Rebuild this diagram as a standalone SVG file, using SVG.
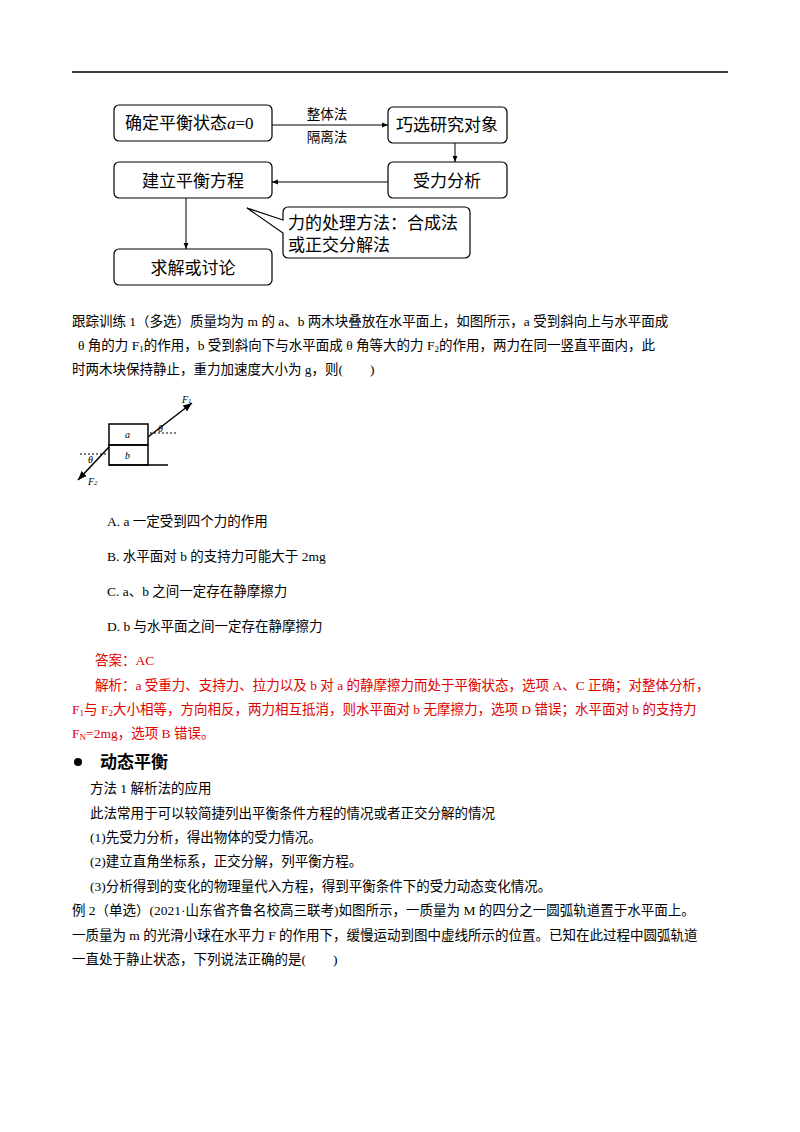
<svg xmlns="http://www.w3.org/2000/svg" width="800" height="1132" viewBox="0 0 800 1132">
<defs>
<marker id="ah" viewBox="0 0 10 10" refX="10" refY="5" markerWidth="6" markerHeight="6" orient="auto"><path d="M0,1 L10,5 L0,9 z" fill="#000"/></marker>
<style>
.box{fill:#fff;stroke:#000;stroke-width:1.2}
.fc{font-family:"Liberation Serif","Noto Sans CJK SC",serif;font-size:17px}
.t{font-family:"Liberation Serif","Noto Sans CJK SC",serif;font-size:13.5px}
.r{fill:#e00000}
.ln{stroke:#000;stroke-width:1;fill:none}
</style>
</defs>
<rect width="800" height="1132" fill="#fff"/>
<line x1="72" y1="72" x2="728" y2="72" stroke="#000" stroke-width="1.5"/>
<g id="n1"><rect class="box" x="114" y="105" width="158" height="36" rx="5"/><text class="fc" x="125" y="129">确定平衡状态<tspan font-style="italic">a</tspan>=0</text></g>
<g id="n2"><rect class="box" x="388" y="107" width="119" height="36" rx="5"/><text class="fc" x="447" y="131" text-anchor="middle">巧选研究对象</text></g>
<g id="n3"><rect class="box" x="388" y="162" width="119" height="36" rx="5"/><text class="fc" x="447" y="187" text-anchor="middle">受力分析</text></g>
<g id="n4"><rect class="box" x="114" y="162" width="158" height="36" rx="5"/><text class="fc" x="193" y="187" text-anchor="middle">建立平衡方程</text></g>
<g id="n5"><rect class="box" x="114" y="249" width="158" height="36" rx="5"/><text class="fc" x="193" y="274" text-anchor="middle">求解或讨论</text></g>
<g id="n6"><path class="box" d="M288,207 H465 a5,5 0 0 1 5,5 V253 a5,5 0 0 1 -5,5 H288 a5,5 0 0 1 -5,-5 V233 L247,208 L283,220 V212 a5,5 0 0 1 5,-5 z"/><text class="fc" x="288" y="229">力的处理方法：合成法</text><text class="fc" x="288" y="251">或正交分解法</text></g>
<g id="edges">
<line class="ln" x1="272" y1="125" x2="388" y2="125" marker-end="url(#ah)"/>
<text class="t" x="327" y="119" text-anchor="middle" font-size="14">整体法</text>
<text class="t" x="327" y="142" text-anchor="middle" font-size="14">隔离法</text>
<line class="ln" x1="455" y1="143" x2="455" y2="162" marker-end="url(#ah)"/>
<line class="ln" x1="388" y1="182" x2="272" y2="182" marker-end="url(#ah)"/>
<line class="ln" x1="186" y1="198" x2="186" y2="249" marker-end="url(#ah)"/>
</g>
<g class="t">
<text x="72" y="326">跟踪训练 1（多选）质量均为 m 的 a、b 两木块叠放在水平面上，如图所示，a 受到斜向上与水平面成</text>
<text x="78" y="350">θ 角的力 F<tspan font-size="9" dy="2">1</tspan><tspan dy="-2">的作用，b 受到斜向下与水平面成 θ 角等大的力 F</tspan><tspan font-size="9" dy="2">2</tspan><tspan dy="-2">的作用，两力在同一竖直平面内，此</tspan></text>
<text x="72" y="374">时两木块保持静止，重力加速度大小为 g，则(　　)</text>
</g>
<g id="fig" stroke="#000" fill="none">
<rect x="109" y="424" width="39" height="21" stroke-width="1.5"/>
<rect x="109" y="445" width="39" height="20" stroke-width="1.5"/>
<line x1="109" y1="465" x2="168" y2="465" stroke-width="1.5"/>
<line x1="148" y1="437" x2="192" y2="403" stroke-width="1.5" marker-end="url(#ah)"/>
<line x1="109" y1="447" x2="78" y2="480" stroke-width="1.5" marker-end="url(#ah)"/>
<line x1="150" y1="433" x2="177" y2="433" stroke-dasharray="2,2"/>
<line x1="80" y1="454" x2="108" y2="454" stroke-dasharray="2,2"/>
<g fill="#000" stroke="none" font-family="Liberation Serif,serif" font-style="italic" font-size="10">
<text x="125" y="438">a</text><text x="125" y="459">b</text>
<text x="158" y="432">θ</text><text x="88" y="463">θ</text>
<text x="182" y="403">F<tspan font-size="7">1</tspan></text><text x="88" y="485">F<tspan font-size="7">2</tspan></text>
</g>
</g>
<g class="t">
<text x="107" y="526">A. a 一定受到四个力的作用</text>
<text x="107" y="561">B. 水平面对 b 的支持力可能大于 2mg</text>
<text x="107" y="596">C. a、b 之间一定存在静摩擦力</text>
<text x="107" y="631">D. b 与水平面之间一定存在静摩擦力</text>
</g>
<g class="t r">
<text x="95" y="665">答案：AC</text>
<text x="95" y="690">解析：a 受重力、支持力、拉力以及 b 对 a 的静摩擦力而处于平衡状态，选项 A、C 正确；对整体分析，</text>
<text x="72" y="714">F<tspan font-size="9" dy="2">1</tspan><tspan dy="-2">与 F</tspan><tspan font-size="9" dy="2">2</tspan><tspan dy="-2">大小相等，方向相反，两力相互抵消，则水平面对 b 无摩擦力，选项 D 错误；水平面对 b 的支持力</tspan></text>
<text x="72" y="738">F<tspan font-size="9" dy="2">N</tspan><tspan dy="-2">=2mg，选项 B 错误。</tspan></text>
</g>
<circle cx="78" cy="762" r="4" fill="#000"/>
<text x="100" y="768" font-family="Noto Sans CJK SC,sans-serif" font-size="17" font-weight="bold">动态平衡</text>
<g class="t">
<text x="90" y="793">方法 1 解析法的应用</text>
<text x="90" y="818">此法常用于可以较简捷列出平衡条件方程的情况或者正交分解的情况</text>
<text x="90" y="842">(1)先受力分析，得出物体的受力情况。</text>
<text x="90" y="866">(2)建立直角坐标系，正交分解，列平衡方程。</text>
<text x="90" y="891">(3)分析得到的变化的物理量代入方程，得到平衡条件下的受力动态变化情况。</text>
<text x="72" y="915">例 2（单选）(2021·山东省齐鲁名校高三联考)如图所示，一质量为 M 的四分之一圆弧轨道置于水平面上。</text>
<text x="72" y="940">一质量为 m 的光滑小球在水平力 F 的作用下，缓慢运动到图中虚线所示的位置。已知在此过程中圆弧轨道</text>
<text x="72" y="964">一直处于静止状态，下列说法正确的是(　　)</text>
</g>
</svg>
